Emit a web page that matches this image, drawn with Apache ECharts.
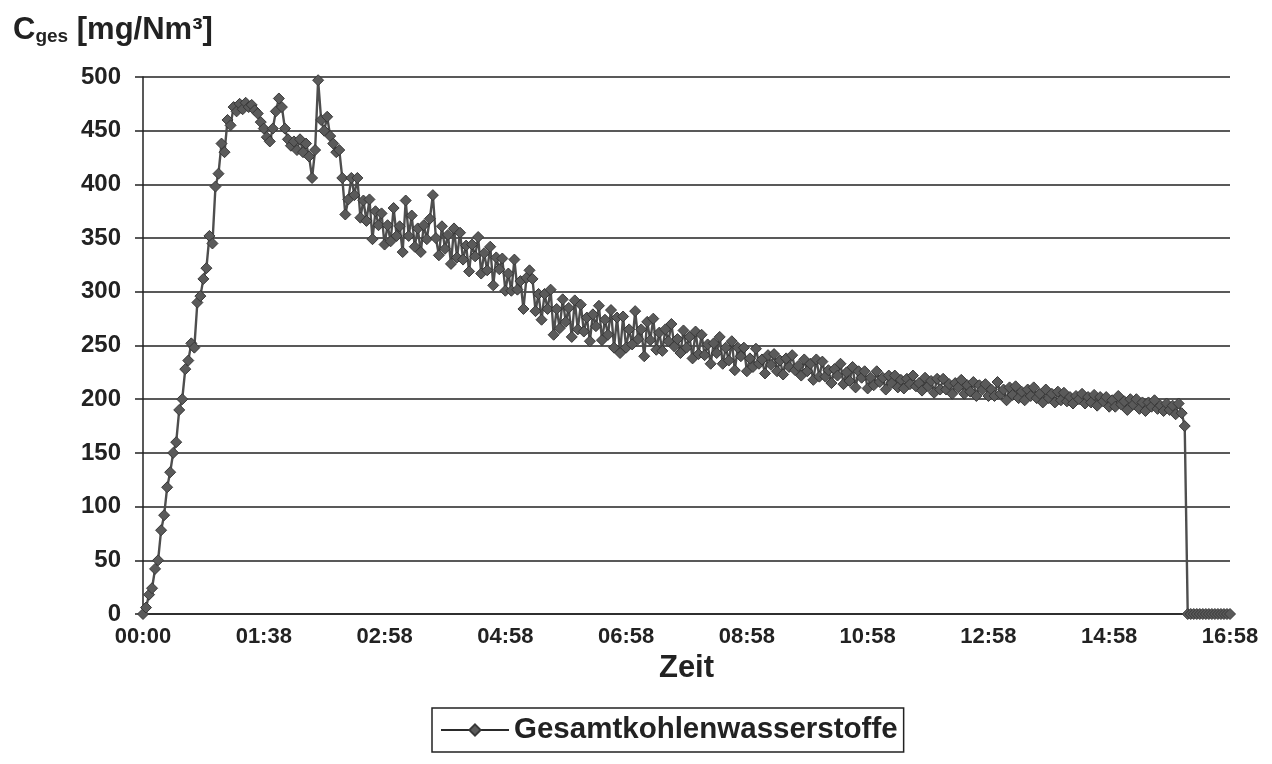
<!DOCTYPE html>
<html>
<head>
<meta charset="utf-8">
<script src="https://cdn.jsdelivr.net/npm/echarts@6/dist/echarts.min.js"></script>
<style>
  html, body { margin: 0; padding: 0; background: #fff; }
  #chart { width: 1272px; height: 764px; }
</style>
</head>
<body>
<div id="chart"></div>
<script>
// tick labels on the time axis (one every 40 samples)
var timeLabels = ['00:00', '01:38', '02:58', '04:58', '06:58', '08:58', '10:58', '12:58', '14:58', '16:58'];
var perTick = 40;

// C_ges [mg/Nm3], one value per sample
var riseValues = [
  0, 6, 18, 24, 42, 50, 78, 92, 118, 132,
  150, 160, 190, 200, 228, 236, 252, 248, 290, 296,
  312, 322, 352, 345, 398, 410, 438, 430, 460, 455,
  472
];
var peakValues = [
  468, 475, 470, 476, 472, 474, 469, 466, 458, 452,
  444, 440, 452, 468, 480, 472, 452, 442, 436, 440,
  432, 442, 430, 438, 426, 406, 432, 497, 460, 450,
  463, 445, 438, 430
];
var declineValues = [
  432, 406, 372, 386, 406, 390, 406, 369, 385, 366,
  386, 349, 375, 362, 373, 344, 362, 347, 378, 352,
  361, 337, 385, 352, 371, 342, 359, 337, 362, 349,
  368, 390, 350, 334, 361, 340, 353, 326, 359, 332,
  355, 330, 343, 319, 344, 333, 351, 317, 336, 320,
  342, 306, 332, 321, 331, 301, 317, 301, 330, 302,
  310, 284, 313, 320, 312, 282, 298, 274, 298, 284,
  302, 260, 284, 266, 293, 272, 285, 258, 292, 265,
  288, 263, 276, 254, 279, 268, 287, 255, 274, 260,
  283, 248, 276, 243, 277, 248, 265, 251, 282, 256,
  265, 240, 272, 255, 275, 246
];
var middleValues = [
  262, 245, 265, 254, 270, 249, 256, 243, 264, 248,
  258, 238, 263, 242, 260, 241, 251, 233, 252, 243,
  258, 233, 248, 236, 254, 227, 248, 240, 248, 226,
  238, 230, 247, 233, 237, 224, 241, 232, 242, 226,
  236, 223, 238, 230, 241, 227, 231, 222, 237, 226,
  233, 218, 237, 221, 235, 221, 227, 215, 228, 222,
  233, 214, 225, 217, 230, 211, 226, 220, 226, 210,
  220, 213, 226, 216, 220, 209, 222, 215, 222, 211
];
var tailValues = [
  218, 210, 219, 214, 222, 212, 215, 208, 220, 212,
  217, 206, 219, 209, 219, 209, 214, 205, 215, 211,
  218, 205, 213, 207, 216, 203, 213, 209, 214, 203,
  209, 203, 216, 205, 209, 199, 211, 204, 212, 201,
  207, 199, 209, 203, 211, 201, 205, 197, 209, 201,
  205, 197, 207, 199, 206, 198, 202, 196, 203, 200,
  205, 196, 202, 197, 204, 194, 202, 198, 202, 193,
  199, 193, 203, 195, 198, 190, 200, 195, 200, 191,
  197, 189, 197, 193, 199, 191, 194, 189, 196, 190,
  194, 186, 196, 187, 175
];
var offValues = [0, 0, 0, 0, 0, 0, 0, 0, 0, 0, 0, 0, 0, 0, 0];

var gesamt = riseValues.concat(peakValues, declineValues, middleValues, tailValues, offValues);

(function(){
  var chart = echarts.init(document.getElementById('chart'));
  var txt = '#222';
  var fontFam = '"Liberation Sans", Arial, sans-serif';

  var option = {
    animation: false,
    backgroundColor: '#fff',
    textStyle: { fontFamily: fontFam },
    title: {
      left: 8,
      top: 10,
      text: '{c|C}{s|ges}{c| [mg/Nm³]}',
      textStyle: {
        rich: {
          c: { fontSize: 31, fontWeight: 'bold', color: txt, fontFamily: fontFam },
          s: { fontSize: 19, fontWeight: 'bold', color: txt, fontFamily: fontFam, verticalAlign: 'bottom', padding: [12, 0, 0, 0] }
        }
      }
    },
    legend: {
      left: 432,
      top: 708,
      padding: [7, 6, 7, 8],
      borderColor: '#222',
      borderWidth: 1.5,
      itemWidth: 68,
      itemHeight: 14,
      textStyle: { fontSize: 29.5, fontWeight: 'bold', color: txt, fontFamily: fontFam },
      data: [{ name: 'Gesamtkohlenwasserstoffe', itemStyle: { color: '#5a5a5a' }, lineStyle: { width: 2, color: '#2a2a2a', opacity: 1 } }]
    },
    grid: {
      left: 143,
      right: 42,
      top: 77,
      bottom: 150,
      containLabel: false
    },
    xAxis: {
      type: 'value',
      min: 0,
      max: (timeLabels.length - 1) * perTick,
      interval: perTick,
      name: 'Zeit',
      nameLocation: 'middle',
      nameGap: 24,
      nameTextStyle: { fontSize: 31, fontWeight: 'bold', color: txt, fontFamily: fontFam, padding: [0, 0, 6, 0] },
      axisLine: { lineStyle: { color: '#222', width: 1.5 } },
      axisTick: { show: false },
      splitLine: { show: false },
      axisLabel: {
        margin: 12,
        fontSize: 22,
        fontWeight: 'bold',
        color: txt,
        formatter: function (v) { return timeLabels[Math.round(v / perTick)]; }
      }
    },
    yAxis: {
      type: 'value',
      min: 0,
      max: 500,
      interval: 50,
      axisLine: { show: true, lineStyle: { color: '#222', width: 1.5 } },
      axisTick: { show: true, inside: false, length: 8, lineStyle: { color: '#222', width: 1.5 } },
      splitLine: { lineStyle: { color: '#222', width: 1.5 } },
      axisLabel: { margin: 22, fontSize: 24, fontWeight: 'bold', color: txt }
    },
    series: [
      {
        name: 'Gesamtkohlenwasserstoffe',
        type: 'line',
        symbol: 'diamond',
        symbolSize: 11,
        showAllSymbol: true,
        data: gesamt.map(function (v, i) { return [i, v]; }),
        lineStyle: { color: '#4e4e4e', width: 2.4 },
        itemStyle: { color: '#5a5a5a', borderColor: '#383838', borderWidth: 1 }
      }
    ]
  };
  chart.setOption(option);
})();
</script>
</body>
</html>
